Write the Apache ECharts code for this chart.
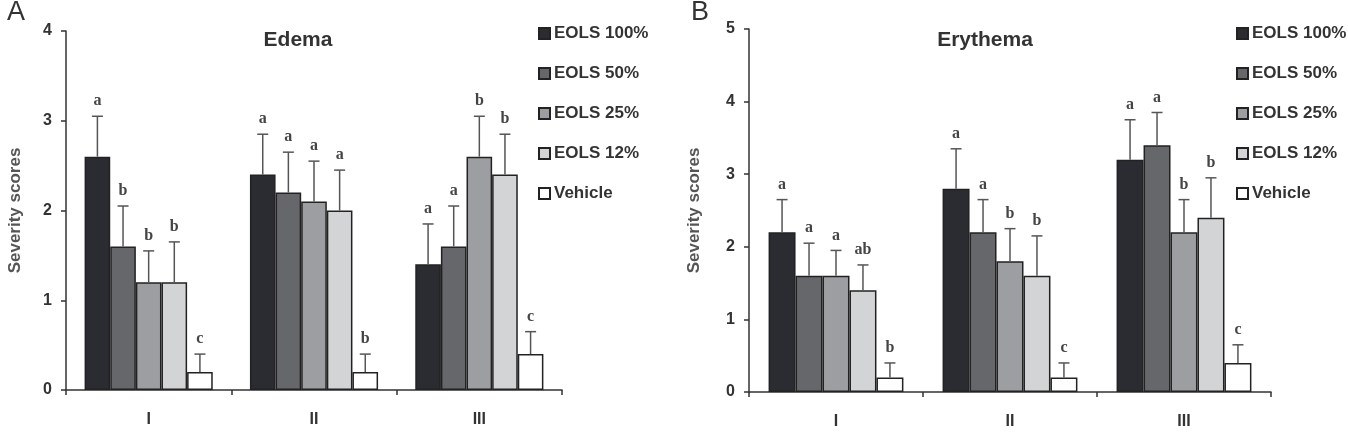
<!DOCTYPE html>
<html>
<head>
<meta charset="utf-8">
<script src="https://cdn.jsdelivr.net/npm/echarts@6/dist/echarts.min.js"></script>
<style>
  html, body { margin: 0; padding: 0; background: #fff; }
  #chart { width: 1348px; height: 432px; }
</style>
</head>
<body>
<div id="chart"></div>
<script>
  // categories (time points) and groups
  const categories = ['I', 'II', 'III']
  const seriesNames = ['EOLS 100%', 'EOLS 50%', 'EOLS 25%', 'EOLS 12%', 'Vehicle']
  const barColors = ['#2b2c31', '#66676b', '#9d9ea1', '#d3d4d6', '#ffffff']

  // Edema: mean per group, one value per category
  const edemaMeans = [
    [2.6, 2.4, 1.4],
    [1.6, 2.2, 1.6],
    [1.2, 2.1, 2.6],
    [1.2, 2.0, 2.4],
    [0.2, 0.2, 0.4]
  ]
  const edemaErrors = [
    [0.45, 0.45, 0.45],
    [0.45, 0.45, 0.45],
    [0.35, 0.45, 0.45],
    [0.45, 0.45, 0.45],
    [0.2, 0.2, 0.25]
  ]
  const edemaLetters = [
    ['a', 'a', 'a'],
    ['b', 'a', 'a'],
    ['b', 'a', 'b'],
    ['b', 'a', 'b'],
    ['c', 'b', 'c']
  ]

  // Erythema
  const erythemaMeans = [
    [2.2, 2.8, 3.2],
    [1.6, 2.2, 3.4],
    [1.6, 1.8, 2.2],
    [1.4, 1.6, 2.4],
    [0.2, 0.2, 0.4]
  ]
  const erythemaErrors = [
    [0.45, 0.55, 0.55],
    [0.45, 0.45, 0.45],
    [0.35, 0.45, 0.45],
    [0.35, 0.55, 0.55],
    [0.2, 0.2, 0.25]
  ]
  const erythemaLetters = [
    ['a', 'a', 'a'],
    ['a', 'a', 'a'],
    ['a', 'b', 'b'],
    ['ab', 'b', 'b'],
    ['b', 'c', 'c']
  ]

  const edemaTicks = [0, 1, 2, 3, 4]
  const erythemaTicks = [0, 1, 2, 3, 4, 5]

  const BAR_PCT = 0.155
  const sans = 'Liberation Sans, Arial, sans-serif'

  const chart = echarts.init(document.getElementById('chart'))

  const makeXAxis = (gridIndex) => ({
    type: 'category',
    gridIndex,
    data: categories,
    axisLine: { lineStyle: { color: '#333', width: 1.5 } },
    axisTick: { show: true, length: 5, lineStyle: { color: '#333', width: 1.5 } },
    axisLabel: { margin: 22, fontSize: 16, fontWeight: 'bold', color: '#333', fontFamily: sans },
    splitLine: { show: false }
  })

  const makeYAxis = (gridIndex, ticks, nameGap) => ({
    type: 'value',
    gridIndex,
    min: 0,
    max: ticks[ticks.length - 1],
    interval: 1,
    name: 'Severity scores',
    nameLocation: 'middle',
    nameGap,
    nameRotate: 90,
    nameTextStyle: { fontSize: 17, fontWeight: 'bold', color: '#555', fontFamily: sans },
    axisLine: { show: true, lineStyle: { color: '#333', width: 1.5 } },
    axisTick: { show: true, length: 5, lineStyle: { color: '#333', width: 1.5 } },
    axisLabel: { margin: 14, fontSize: 16, fontWeight: 'bold', color: '#333', fontFamily: sans },
    splitLine: { show: false }
  })

  // bars for one panel
  const makeBars = (means, axisIndex) =>
    means.map((vals, i) => ({
      type: 'bar',
      name: seriesNames[i],
      xAxisIndex: axisIndex,
      yAxisIndex: axisIndex,
      data: vals,
      barWidth: (BAR_PCT * 100) + '%',
      barGap: '0%',
      itemStyle: { color: barColors[i], borderColor: '#222', borderWidth: 1.5 },
      z: 2
    }))

  // upper error bar + significance letter
  const makeErrors = (means, errors, letters, axisIndex) =>
    means.map((vals, i) => ({
      type: 'custom',
      xAxisIndex: axisIndex,
      yAxisIndex: axisIndex,
      data: vals.map((v, c) => [c, v, errors[i][c]]),
      encode: { x: 0, y: 1 },
      z: 3,
      renderItem: (params, api) => {
        const c = api.value(0)
        const v = api.value(1)
        const e = api.value(2)
        const band = api.size([1, 0])[0]
        const x = api.coord([c, 0])[0] + (i - 2) * band * BAR_PCT
        const y0 = api.coord([c, v])[1]
        const y1 = api.coord([c, v + e])[1]
        const lineStyle = { stroke: '#555', lineWidth: 1.5 }
        return {
          type: 'group',
          children: [
            { type: 'line', shape: { x1: x, y1: y0, x2: x, y2: y1 }, style: lineStyle },
            { type: 'line', shape: { x1: x - 5.5, y1: y1, x2: x + 5.5, y2: y1 }, style: lineStyle },
            {
              type: 'text',
              x: x,
              y: y1 - 7,
              style: {
                text: letters[i][c],
                align: 'center',
                verticalAlign: 'bottom',
                fontSize: 16,
                fontWeight: 'bold',
                fontFamily: 'Liberation Serif, Times New Roman, serif',
                fill: '#444'
              }
            }
          ]
        }
      }
    }))

  const legendBase = {
    orient: 'vertical',
    icon: 'rect',
    itemWidth: 11,
    itemHeight: 11,
    itemGap: 23,
    data: seriesNames,
    selectedMode: false,
    textStyle: { fontSize: 17, fontWeight: 'bold', color: '#333', fontFamily: sans, padding: [0, 0, 0, -1] }
  }

  const option = {
    animation: false,
    backgroundColor: '#fff',
    title: [
      { text: 'A', left: 2, top: -6, textStyle: { fontSize: 27, fontWeight: 'normal', color: '#333', fontFamily: sans } },
      { text: 'B', left: 686, top: -6, textStyle: { fontSize: 27, fontWeight: 'normal', color: '#333', fontFamily: sans } },
      { text: 'Edema', left: 293, textAlign: 'center', top: 25, textStyle: { fontSize: 21, fontWeight: 'bold', color: '#333', fontFamily: sans } },
      { text: 'Erythema', left: 980, textAlign: 'center', top: 25, textStyle: { fontSize: 21, fontWeight: 'bold', color: '#333', fontFamily: sans } }
    ],
    legend: [
      Object.assign({ left: 533, top: 20 }, legendBase),
      Object.assign({ left: 1231, top: 20 }, legendBase)
    ],
    grid: [
      { left: 66, top: 31, width: 496, height: 359 },
      { left: 749, top: 29, width: 522, height: 363 }
    ],
    xAxis: [makeXAxis(0), makeXAxis(1)],
    yAxis: [makeYAxis(0, edemaTicks, 42), makeYAxis(1, erythemaTicks, 46)],
    series: [
      ...makeBars(edemaMeans, 0),
      ...makeBars(erythemaMeans, 1),
      ...makeErrors(edemaMeans, edemaErrors, edemaLetters, 0),
      ...makeErrors(erythemaMeans, erythemaErrors, erythemaLetters, 1)
    ]
  }

  chart.setOption(option)
</script>
</body>
</html>
